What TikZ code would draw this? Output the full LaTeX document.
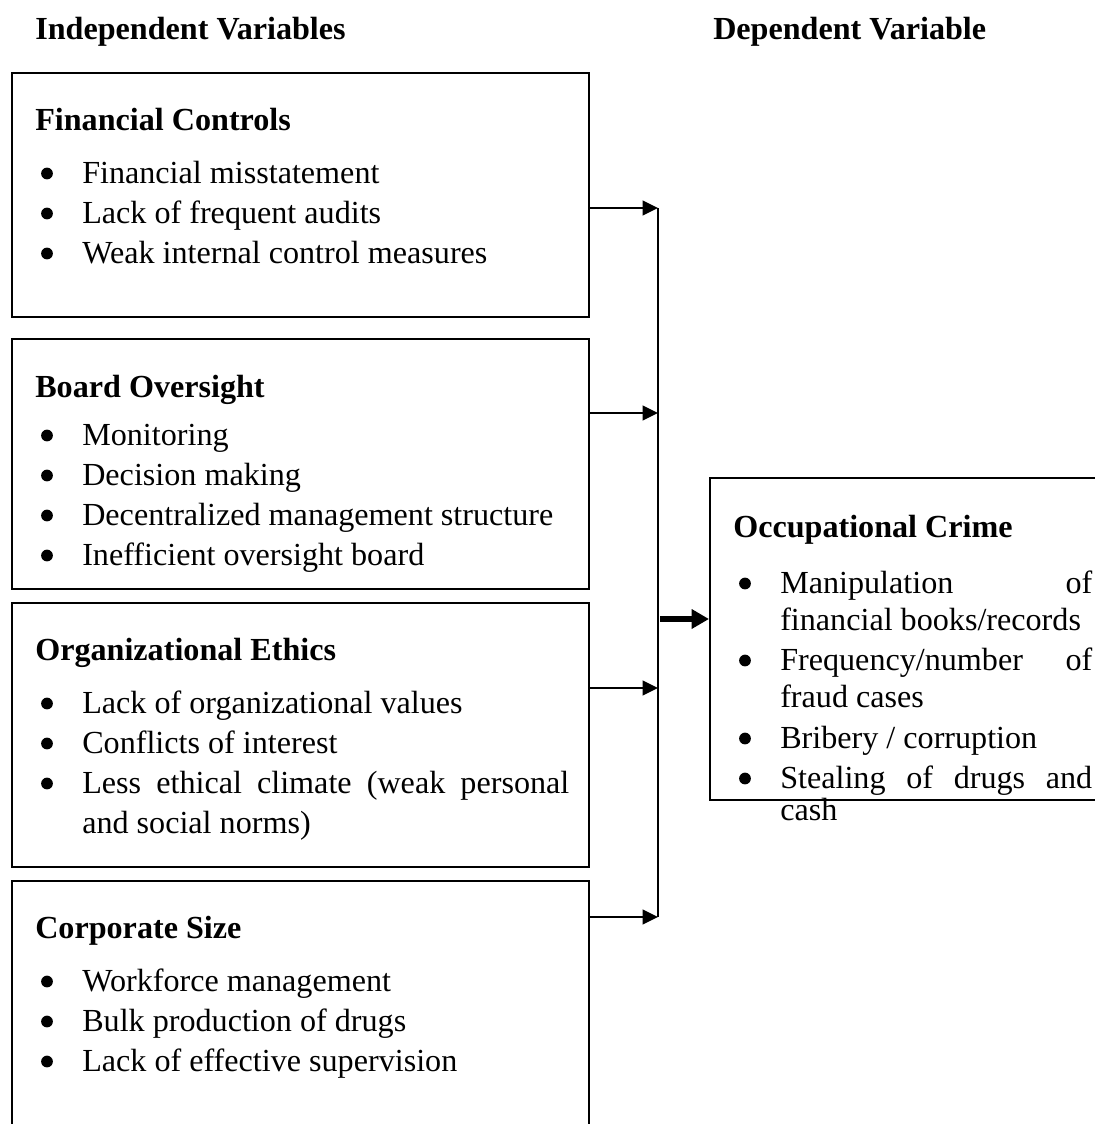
\documentclass[tikz,border=0pt]{standalone}
\usepackage{fontspec}
\setmainfont{Liberation Serif}
\usetikzlibrary{fit,arrows.meta}
\newcommand{\bitem}[4]{%
  \node[dotb] (#1-b) at (#2-35,#3-9.5) {};
  \node[txt] (#1) at (#2,#3) {#4};}
\begin{document}
\begin{tikzpicture}[x=0.75pt,y=-0.75pt,
  box/.style={draw, line width=1.5pt, inner sep=0pt},
  txt/.style={anchor=base west, inner sep=0pt, font=\fontsize{24.1}{28}\selectfont},
  dotb/.style={circle, fill, inner sep=0pt, minimum size=8.8pt},
  conn/.style={line width=1.5pt, -{Triangle[length=11.5pt,width=11pt]}},
  vline/.style={line width=1.5pt},
  bigconn/.style={line width=5pt, -{Triangle[length=13pt,width=14pt]}}]
\useasboundingbox (0,0) rectangle (1095,1124);
\clip (0,0) rectangle (1095,1124);

% titles
\node[txt] (t1) at (35,40) {\textbf{Independent Variables}};
\node[txt] (t2) at (713,40) {\textbf{Dependent Variable}};

% boxes
\node[box, fit={(12,73) (589,317)}] (fc) {};
\node[box, fit={(12,339) (589,589)}] (bo) {};
\node[box, fit={(12,603) (589,867)}] (oe) {};
\node[box, fit={(12,881) (589,1200)}] (cs) {};
\node[box, fit={(710,478) (1200,800)}] (oc) {};

% Financial Controls
\node[txt] (fc-h) at (35,130) {\textbf{Financial Controls}};
\bitem{fc1}{82}{183}{Financial misstatement}
\bitem{fc2}{82}{223}{Lack of frequent audits}
\bitem{fc3}{82}{263}{Weak internal control measures}

% Board Oversight
\node[txt] (bo-h) at (35,397) {\textbf{Board Oversight}};
\bitem{bo1}{82}{445}{Monitoring}
\bitem{bo2}{82}{485}{Decision making}
\bitem{bo3}{82}{525}{Decentralized management structure}
\bitem{bo4}{82}{565}{Inefficient oversight board}

% Organizational Ethics
\node[txt] (oe-h) at (35,660) {\textbf{Organizational Ethics}};
\bitem{oe1}{82}{713}{Lack of organizational values}
\bitem{oe2}{82}{753}{Conflicts of interest}
\bitem{oe3}{82}{793}{\makebox[365.25pt][s]{Less ethical climate (weak personal}}
\node[txt] (oe3b) at (82,833) {and social norms)};

% Corporate Size
\node[txt] (cs-h) at (35,938) {\textbf{Corporate Size}};
\bitem{cs1}{82}{991}{Workforce management}
\bitem{cs2}{82}{1031}{Bulk production of drugs}
\bitem{cs3}{82}{1071}{Lack of effective supervision}

% Occupational Crime
\node[txt] (oc-h) at (733,537) {\textbf{Occupational Crime}};
\bitem{oc1}{780}{593}{\makebox[234pt][s]{Manipulation of}}
\node[txt] (oc1b) at (780,630) {financial books/records};
\bitem{oc2}{780}{670}{\makebox[234pt][s]{Frequency/number of}}
\node[txt] (oc2b) at (780,707) {fraud cases};
\bitem{oc3}{780}{748}{Bribery / corruption}
\bitem{oc4}{780}{788}{\makebox[234pt][s]{Stealing of drugs and}}
\node[txt] (oc4b) at (780,820) {cash};

% connectors
\coordinate (j1) at (658,208);
\coordinate (j2) at (658,413);
\coordinate (j3) at (658,688);
\coordinate (j4) at (658,917);
\coordinate (jm) at (660,619);
\draw[vline] (j1) -- (j4);
\draw[conn] (fc.east |- j1) -- (j1);
\draw[conn] (bo.east |- j2) -- (j2);
\draw[conn] (oe.east |- j3) -- (j3);
\draw[conn] (cs.east |- j4) -- (j4);
\draw[bigconn] (jm) -- (oc.west |- jm);
\end{tikzpicture}
\end{document}
